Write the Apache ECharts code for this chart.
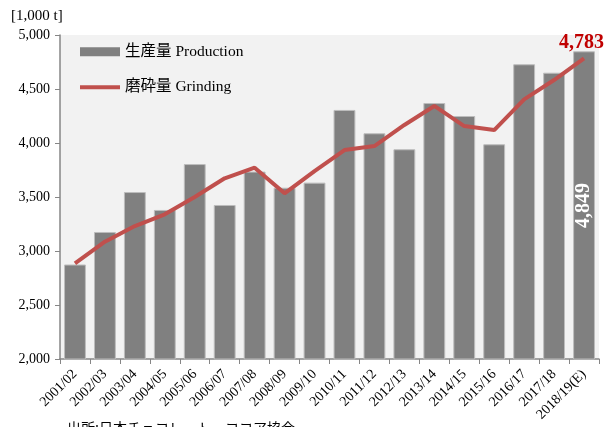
<!DOCTYPE html>
<html>
<head>
<meta charset="utf-8">
<script src="https://cdn.jsdelivr.net/npm/echarts@6/dist/echarts.min.js"></script>
<style>
  html, body { margin: 0; padding: 0; background: #fff; }
  #chart { width: 606px; height: 427px; }
</style>
</head>
<body>
<div id="chart"></div>
<script>
// 年度（カテゴリ）
var years = ['2001/02', '2002/03', '2003/04', '2004/05', '2005/06', '2006/07', '2007/08', '2008/09', '2009/10',
  '2010/11', '2011/12', '2012/13', '2013/14', '2014/15', '2015/16', '2016/17', '2017/18', '2018/19(E)'];
// 生産量
var production = [2875, 3176, 3546, 3380, 3805, 3426, 3735, 3586, 3633,
  4306, 4090, 3942, 4370, 4250, 3988, 4729, 4651, 4849];
// 磨砕量
var grinding = [2886, 3086, 3231, 3340, 3500, 3673, 3771, 3534, 3740,
  3935, 3972, 4167, 4343, 4157, 4120, 4404, 4583, 4783];

var serif = '"Liberation Serif", "Noto Sans CJK JP", serif';
var last = years.length - 1;
var chart = echarts.init(document.getElementById('chart'));

var option = {
  backgroundColor: '#fff',
  animation: false,
  textStyle: { fontFamily: serif },
  grid: {
    left: 60, right: 7, top: 35, bottom: 68,
    outerBoundsMode: 'none',
    containLabel: false,
    show: true, backgroundColor: '#f2f2f2', borderWidth: 0
  },
  legend: {
    orient: 'vertical',
    left: 73,
    top: 39,
    itemGap: 20,
    itemWidth: 40,
    itemHeight: 9,
    textStyle: { fontFamily: serif, fontSize: 15.5, color: '#000' },
    data: [
      { name: '生産量 Production', icon: 'rect', itemStyle: { borderWidth: 0 } },
      { name: '磨砕量 Grinding', itemStyle: { opacity: 0 }, lineStyle: { width: 4 } }
    ]
  },
  // 単位
  title: {
    text: '[1,000 t]',
    left: 6,
    top: 4,
    textStyle: { fontFamily: serif, fontSize: 15, fontWeight: 'normal', color: '#000' }
  },
  xAxis: {
    type: 'category',
    data: years,
    axisLine: { lineStyle: { color: '#868686', width: 1.5 } },
    axisTick: { show: true, length: 5, lineStyle: { color: '#868686' } },
    axisLabel: {
      rotate: 45,
      interval: 0,
      fontFamily: serif,
      fontSize: 14,
      color: '#000',
      margin: 13
    }
  },
  yAxis: {
    type: 'value',
    min: 2000,
    max: 5000,
    interval: 500,
    axisLine: { show: true, lineStyle: { color: '#868686', width: 1.5 } },
    axisTick: { show: true, length: 5, lineStyle: { color: '#868686' } },
    splitLine: { show: false },
    axisLabel: {
      fontFamily: serif,
      fontSize: 14,
      color: '#000',
      margin: 10,
      formatter: function (v) { return v.toLocaleString('en-US'); }
    }
  },
  series: [
    {
      name: '生産量 Production',
      type: 'bar',
      data: production,
      barWidth: '73%',
      itemStyle: { color: '#808080', borderColor: '#bdbdbd', borderWidth: 1 },
      label: {
        show: true,
        formatter: function (p) {
          return p.dataIndex === last ? p.value.toLocaleString('en-US') : '';
        },
        position: 'inside',
        rotate: 90,
        fontFamily: serif,
        fontSize: 20,
        fontWeight: 'bold',
        color: '#fff'
      }
    },
    {
      name: '磨砕量 Grinding',
      type: 'line',
      data: grinding,
      symbol: 'none',
      z: 5,
      lineStyle: { color: '#c0504d', width: 4 },
      itemStyle: { color: '#c0504d' },
      endLabel: {
        show: true,
        formatter: function (p) { return p.value.toLocaleString('en-US'); },
        fontFamily: serif,
        fontSize: 20,
        fontWeight: 'bold',
        color: '#c00000',
        offset: [-33, -16]
      }
    }
  ],
  graphic: [
    {
      type: 'text',
      left: 67,
      top: 421,
      style: { text: '出所:日本チョコレート・ココア協会', font: '14px "Noto Sans CJK JP"', fill: '#000' }
    }
  ]
};

chart.setOption(option);
</script>
</body>
</html>
